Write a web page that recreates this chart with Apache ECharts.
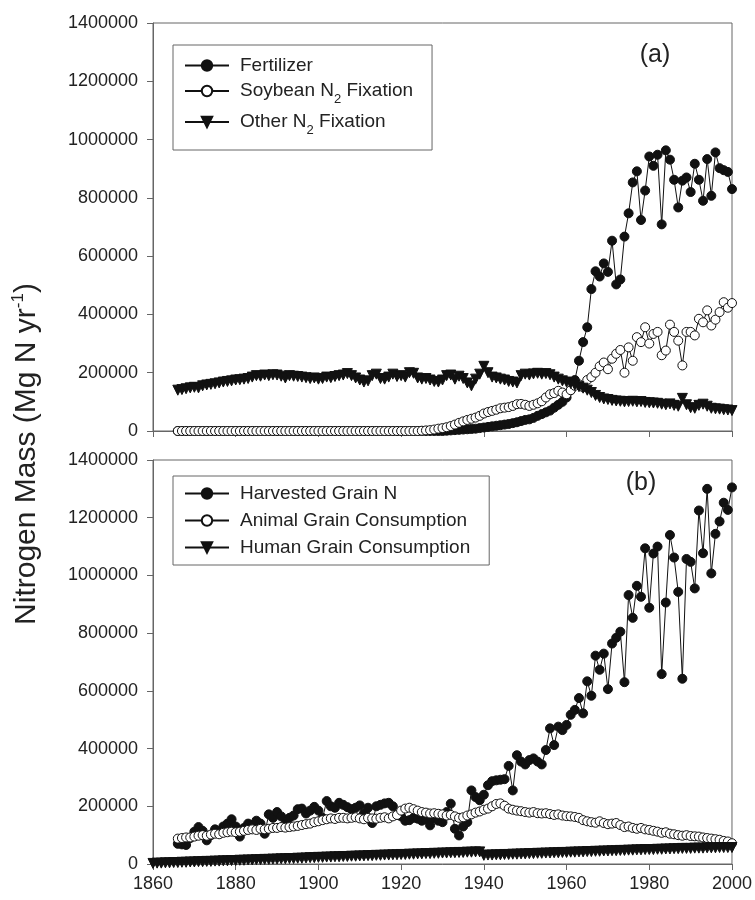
<!DOCTYPE html>
<html>
<head>
<meta charset="utf-8">
<script src="https://cdn.jsdelivr.net/npm/echarts@6.0.0/dist/echarts.min.js"></script>
<style>html,body{margin:0;padding:0;background:#fff}#c{width:755px;height:900px}</style>
</head>
<body>
<div id="c"></div>
<script>
// ---------- DATA ----------
const xTickLabels = [1860, 1880, 1900, 1920, 1940, 1960, 1980, 2000];
const yTickLabels = [0, 200000, 400000, 600000, 800000, 1000000, 1200000, 1400000];

// Panel (a): series start in 1866, one value per year to 2000
const startA = 1866;
const fertilizer = [
  0,0,0,0,
  0,0,0,0,0,0,0,0,0,0,
  0,0,0,0,0,0,0,0,0,0,
  0,0,0,0,0,0,0,0,0,0,
  0,0,0,0,0,0,0,0,0,0,
  0,0,0,0,0,0,0,0,0,0,
  0,0,0,0,0,0,0,0,0,0,
  0,1000,2000,3000,4000,5000,6000,7000,8000,10000,
  12000,14000,16000,18000,20000,22000,24000,27000,30000,34000,
  38000,40000,45000,52000,58000,64000,70000,80000,90000,100000,
  115000,140000,175000,241000,305000,356000,487000,548000,530000,575000,
  546000,653000,503000,520000,667000,747000,853000,891000,724000,825000,
  942000,910000,948000,709000,963000,931000,862000,767000,859000,870000,
  820000,917000,862000,790000,933000,807000,956000,902000,895000,889000,
  830000
];
const soybean = [
  0,0,0,0,
  0,0,0,0,0,0,0,0,0,0,
  0,0,0,0,0,0,0,0,0,0,
  0,0,0,0,0,0,0,0,0,0,
  0,0,0,0,0,0,0,0,0,0,
  0,0,0,0,0,0,0,0,0,0,
  0,0,0,0,0,1000,2000,3000,5000,8000,
  10000,13000,17000,22000,28000,33000,38000,42000,46000,52000,
  60000,65000,69000,73000,78000,80000,82000,86000,92000,93000,
  90000,86000,90000,95000,102000,115000,126000,130000,138000,132000,
  126000,140000,155000,160000,150000,175000,185000,200000,222000,235000,
  212000,248000,265000,278000,200000,287000,241000,322000,305000,356000,
  300000,333000,340000,260000,276000,365000,340000,310000,225000,340000,
  340000,328000,385000,373000,414000,362000,382000,408000,442000,423000,
  439000
];
const otherFix = [
  140000,142000,145000,148000,
  150000,148000,155000,158000,160000,162000,165000,168000,170000,172000,
  175000,176000,178000,180000,185000,190000,188000,192000,190000,193000,
  192000,188000,182000,190000,188000,187000,185000,183000,180000,182000,
  178000,180000,185000,183000,187000,190000,192000,197000,190000,182000,
  175000,168000,172000,190000,195000,180000,178000,185000,195000,187000,
  190000,185000,200000,198000,182000,178000,180000,175000,170000,168000,
  175000,190000,192000,178000,188000,180000,165000,155000,178000,195000,
  222000,200000,185000,182000,178000,175000,170000,168000,165000,190000,
  195000,192000,196000,198000,195000,197000,193000,185000,178000,172000,
  168000,163000,158000,152000,147000,140000,132000,122000,115000,110000,
  108000,105000,103000,102000,100000,101000,102000,100000,101000,98000,
  97000,96000,95000,92000,90000,93000,88000,85000,112000,90000,
  80000,78000,88000,92000,85000,78000,76000,75000,73000,72000,
  70000
];

// Panel (b)
const startB = 1866;
const harvested = [
  70000,68000,66000,90000,
  112000,128000,115000,82000,100000,120000,112000,130000,140000,155000,
  130000,95000,125000,140000,135000,150000,140000,105000,172000,160000,
  180000,165000,140000,160000,168000,190000,192000,175000,185000,198000,
  185000,160000,218000,200000,195000,212000,205000,197000,190000,195000,
  203000,175000,195000,142000,200000,205000,210000,212000,200000,170000,
  165000,150000,152000,160000,157000,150000,155000,134000,160000,150000,
  145000,180000,209000,122000,99000,130000,145000,255000,232000,221000,
  240000,273000,287000,290000,292000,294000,340000,255000,377000,355000,
  345000,360000,366000,355000,345000,395000,470000,412000,476000,464000,
  482000,517000,534000,575000,522000,633000,583000,722000,673000,729000,
  606000,764000,784000,805000,630000,932000,853000,964000,926000,1094000,
  888000,1076000,1100000,658000,906000,1140000,1062000,943000,642000,1057000,
  1047000,955000,1225000,1077000,1300000,1007000,1144000,1187000,1252000,1227000,
  1305000
];
const animal = [
  88000,90000,92000,92000,
  95000,98000,100000,98000,102000,105000,103000,108000,110000,112000,
  110000,112000,115000,118000,120000,118000,122000,120000,122000,125000,
  125000,128000,126000,128000,130000,132000,135000,138000,140000,145000,
  148000,152000,155000,158000,156000,160000,160000,158000,160000,162000,
  158000,155000,160000,158000,157000,160000,162000,158000,165000,170000,
  185000,192000,195000,190000,185000,180000,178000,175000,176000,174000,
  172000,168000,170000,165000,160000,162000,168000,172000,178000,182000,
  188000,192000,200000,208000,210000,202000,192000,188000,185000,183000,
  180000,178000,180000,176000,175000,176000,173000,170000,172000,168000,
  166000,165000,163000,160000,152000,148000,145000,143000,148000,142000,
  138000,140000,142000,135000,128000,130000,125000,122000,125000,120000,
  118000,115000,112000,108000,110000,105000,103000,100000,98000,100000,
  97000,96000,95000,92000,90000,88000,86000,84000,80000,78000,
  72000
];
const startHuman = 1860;
const human = [
  2000,3000,3000,4000,4000,5000,5000,6000,6000,7000,
  7000,8000,8000,9000,9000,10000,10000,11000,11000,12000,
  12000,13000,13000,14000,14000,15000,15000,16000,16000,17000,
  17000,18000,18000,19000,19000,20000,20000,21000,22000,22000,
  23000,23000,24000,24000,25000,25000,26000,26000,27000,27000,
  28000,28000,29000,29000,30000,30000,31000,31000,32000,32000,
  33000,33000,34000,34000,35000,35000,36000,36000,37000,37000,
  38000,38000,39000,39000,40000,40000,41000,41000,42000,42000,
  30000,31000,31000,32000,32000,33000,33000,34000,34000,35000,
  35000,36000,36000,37000,37000,38000,38000,39000,39000,40000,
  40000,41000,41000,42000,42000,43000,43000,44000,44000,45000,
  45000,46000,46000,47000,47000,48000,48000,49000,49000,50000,
  50000,50000,51000,51000,52000,52000,53000,53000,54000,54000,
  54000,55000,55000,55000,56000,56000,56000,57000,57000,57000,
  57000
];

const legendA = ['Fertilizer', 'Soybean N2 Fixation', 'Other N2 Fixation'];
const legendB = ['Harvested Grain N', 'Animal Grain Consumption', 'Human Grain Consumption'];

// ---------- CHART ----------
function pairs(start, vals) { return vals.map((v, i) => [start + i, v]); }

const FONT = '"Liberation Sans", Arial, sans-serif';
const AX = '#666';
const INK = '#111';
const TXT = '#222';

const chart = echarts.init(document.getElementById('c'), null, { renderer: 'canvas' });

function xAx(i, showLabel) {
  return {
    gridIndex: i, type: 'value',
    min: xTickLabels[0], max: xTickLabels[xTickLabels.length - 1],
    interval: xTickLabels[1] - xTickLabels[0],
    axisLine: { onZero: false, lineStyle: { color: AX, width: 1 } },
    axisTick: { show: true, inside: false, length: 6, lineStyle: { color: AX } },
    axisLabel: { show: showLabel, fontSize: 18, fontFamily: FONT, color: TXT, margin: 11, formatter: v => String(v) },
    splitLine: { show: false }
  };
}
function yAx(i) {
  return {
    gridIndex: i, type: 'value',
    min: yTickLabels[0], max: yTickLabels[yTickLabels.length - 1],
    interval: yTickLabels[1] - yTickLabels[0],
    axisLine: { show: true, onZero: false, lineStyle: { color: AX, width: 1 } },
    axisTick: { show: true, inside: false, length: 6, lineStyle: { color: AX } },
    axisLabel: { fontSize: 18, fontFamily: FONT, color: TXT, margin: 15, formatter: v => String(v) },
    splitLine: { show: false }
  };
}
function lineSeries(name, gi, data, kind) {
  const s = {
    type: 'line', name: name, xAxisIndex: gi, yAxisIndex: gi, data: data,
    symbolSize: 9, showAllSymbol: true, animation: false,
    lineStyle: { color: INK, width: 1 },
    itemStyle: { color: INK, borderColor: INK, borderWidth: 1 },
    emphasis: { disabled: true }
  };
  if (kind === 'filled') { s.symbol = 'circle'; }
  if (kind === 'open') { s.symbol = 'circle'; s.itemStyle = { color: '#fff', borderColor: INK, borderWidth: 1 }; }
  if (kind === 'tri') { s.symbol = 'triangle'; s.symbolRotate = 180; s.symbolSize = 10; }
  return s;
}
const legendRich = {
  n: { fontSize: 19, fontFamily: FONT, color: TXT, lineHeight: 22 },
  sub: { fontSize: 13, fontFamily: FONT, color: TXT, lineHeight: 13, verticalAlign: 'top', padding: [13, 0, 0, 0] }
};
function legendFmt(name) {
  const i = name.indexOf('N2');
  if (i < 0) return '{n|' + name + '}';
  return '{n|' + name.slice(0, i + 1) + '}{sub|2}{n|' + name.slice(i + 2) + '}';
}
function legend(data, top, gap, pad) {
  return {
    data: data, orient: 'vertical', left: 173, top: top,
    itemWidth: 44, itemHeight: 13, itemGap: gap,
    padding: pad, borderColor: AX, borderWidth: 1, backgroundColor: '#fff',
    selectedMode: false,
    textStyle: { fontSize: 19, fontFamily: FONT, color: TXT, padding: [0, 0, 0, 6], rich: legendRich },
    formatter: legendFmt
  };
}

const option = {
  backgroundColor: '#fff',
  animation: false,
  grid: [
    { left: 153, right: 23, top: 23, height: 408, show: true, borderColor: AX, borderWidth: 1, backgroundColor: 'transparent' },
    { left: 153, right: 23, top: 460, height: 404, show: true, borderColor: AX, borderWidth: 1, backgroundColor: 'transparent' }
  ],
  xAxis: [xAx(0, false), xAx(1, true)],
  yAxis: [yAx(0), yAx(1)],
  legend: [
    legend(legendA, 45, 5, [11, 19, 13, 11]),
    legend(legendB, 476, 8, [8, 19, 8, 11])
  ],
  series: [
    lineSeries(legendA[0], 0, pairs(startA, fertilizer), 'filled'),
    lineSeries(legendA[1], 0, pairs(startA, soybean), 'open'),
    lineSeries(legendA[2], 0, pairs(startA, otherFix), 'tri'),
    lineSeries(legendB[0], 1, pairs(startB, harvested), 'filled'),
    lineSeries(legendB[1], 1, pairs(startB, animal), 'open'),
    lineSeries(legendB[2], 1, pairs(startHuman, human), 'tri')
  ],
  graphic: [
    {
      type: 'text', x: 27, y: 454, rotation: Math.PI / 2,
      style: {
        text: '{m|Nitrogen Mass (Mg N yr}{sup|-1}{m|)}',
        align: 'center', verticalAlign: 'middle',
        rich: {
          m: { fontSize: 30, fontFamily: FONT, fill: TXT, lineHeight: 34 },
          sup: { fontSize: 17, fontFamily: FONT, fill: TXT, lineHeight: 17, verticalAlign: 'top' }
        }
      }
    },
    { type: 'text', x: 655, y: 55, style: { text: '(a)', font: '25px ' + FONT, fill: TXT, align: 'center', verticalAlign: 'middle' } },
    { type: 'text', x: 641, y: 483, style: { text: '(b)', font: '25px ' + FONT, fill: TXT, align: 'center', verticalAlign: 'middle' } }
  ]
};
chart.setOption(option);
</script>
</body>
</html>
